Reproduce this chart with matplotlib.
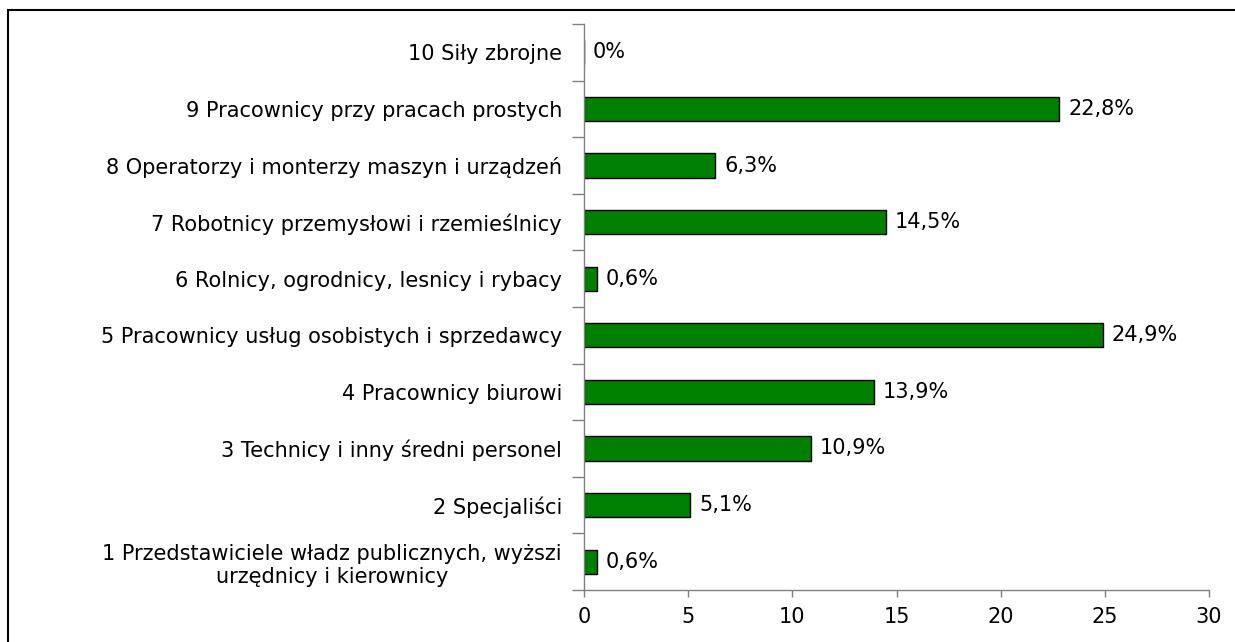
import matplotlib.pyplot as plt
from matplotlib.patches import Rectangle
from matplotlib.ticker import FixedLocator
from matplotlib.transforms import offset_copy

# dane: grupy zawodow (od dolu do gory) i udzial w %
CATEGORIES = [
    "1 Przedstawiciele władz publicznych, wyższi\nurzędnicy i kierownicy",
    "2 Specjaliści",
    "3 Technicy i inny średni personel",
    "4 Pracownicy biurowi",
    "5 Pracownicy usług osobistych i sprzedawcy",
    "6 Rolnicy, ogrodnicy, lesnicy i rybacy",
    "7 Robotnicy przemysłowi i rzemieślnicy",
    "8 Operatorzy i monterzy maszyn i urządzeń",
    "9 Pracownicy przy pracach prostych",
    "10 Siły zbrojne",
]
VALUES = [0.6, 5.1, 10.9, 13.9, 24.9, 0.6, 14.5, 6.3, 22.8, 0.0]
X_TICKS = [0, 5, 10, 15, 20, 25, 30]

BAR_COLOR = "#008000"
AXIS_COLOR = "#808080"
FONT_SIZE = 15

plt.rcParams["font.family"] = ["DejaVu Sans"]

fig = plt.figure(figsize=(12.35, 6.42), dpi=100)
ax = fig.add_axes([584 / 1235, 1 - 590 / 642, (1209 - 584) / 1235, (590 - 24) / 642])

ypos = list(range(len(CATEGORIES)))
ax.barh(ypos, VALUES, height=0.43, color=BAR_COLOR, edgecolor="black", linewidth=1.0)

for y, v in zip(ypos, VALUES):
    txt = "0%" if v == 0 else f"{v:.1f}%".replace(".", ",")
    ax.annotate(txt, (v, y), xytext=(6.5, 0), textcoords="offset points",
                va="center", ha="left", fontsize=FONT_SIZE)

ax.set_xlim(0, 30)
ax.set_ylim(-0.5, len(CATEGORIES) - 0.5)
ax.set_xticks(X_TICKS)
ax.set_yticks(ypos)
ax.set_yticklabels(CATEGORIES, fontsize=FONT_SIZE, ha="center", multialignment="center")
ax.yaxis.set_minor_locator(FixedLocator([i - 0.5 for i in range(len(CATEGORIES) + 1)]))

ax.tick_params(axis="y", which="major", length=0, pad=0)
ax.tick_params(axis="y", which="minor", length=9, width=1.0, color=AXIS_COLOR)
ax.tick_params(axis="x", length=5, width=1.0, color=AXIS_COLOR, labelsize=FONT_SIZE, pad=7)

# etykiety wysrodkowane - przesuniecie w lewo o polowe szerokosci
fig.canvas.draw()
renderer = fig.canvas.get_renderer()
for lab in ax.get_yticklabels():
    w = lab.get_window_extent(renderer).width
    lab.set_x(0)
    lab.set_transform(offset_copy(ax.get_yaxis_transform(), fig=fig,
                                  x=-(w / 2 + 22), y=0, units="dots"))

for side in ("top", "right"):
    ax.spines[side].set_visible(False)
for side in ("left", "bottom"):
    ax.spines[side].set_color(AXIS_COLOR)
    ax.spines[side].set_linewidth(1.0)

# ramka wokol calego wykresu
fig.patches.append(Rectangle((8 / 1235, -0.05), 1.1, 1.05 - 10 / 642,
                             transform=fig.transFigure, fill=False,
                             edgecolor="black", linewidth=1.5))

fig.savefig("out.png", dpi=100)
